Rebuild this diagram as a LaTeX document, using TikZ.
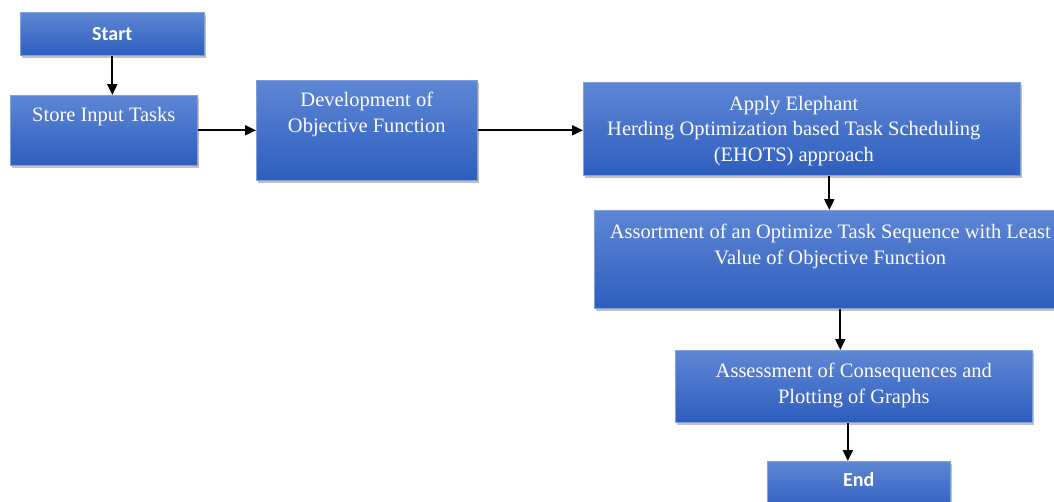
\documentclass[tikz,border=0pt]{standalone}
\usepackage{fontspec}
\setmainfont{Liberation Serif}
\newfontfamily\calfont{Carlito}
\usetikzlibrary{arrows.meta,shadows}

\definecolor{boxtop}{RGB}{94,134,212}
\definecolor{boxbottom}{RGB}{46,94,190}
\definecolor{boxedge}{RGB}{126,160,222}

\begin{document}
\begin{tikzpicture}[
    x=1pt, y=-1pt,
    flowbox/.style={anchor=north west, inner sep=0pt,
        top color=boxtop, bottom color=boxbottom,
        draw=boxedge, line width=0.6pt,
        drop shadow={shadow xshift=1.5pt, shadow yshift=-2.5pt, opacity=0.35, fill=black!70}},
    boxtext/.style={anchor=north, inner sep=0pt, text=white, align=center,
        font=\fontsize{20.5}{25.5}\selectfont},
    termtext/.style={inner sep=0pt, text=white, font=\calfont\bfseries\fontsize{20}{24}\selectfont},
    flowarrow/.style={-{Triangle[length=11pt,width=10pt]}, line width=2pt, black}
]
\useasboundingbox[fill=white] (0,0) rectangle (1054,501);

% boxes
\node[flowbox, minimum width=184pt, minimum height=43pt] (start) at (20,12) {};
\node[flowbox, minimum width=187pt, minimum height=70pt] (store) at (10,95) {};
\node[flowbox, minimum width=221pt, minimum height=100pt] (devel) at (256,80) {};
\node[flowbox, minimum width=437pt, minimum height=93pt] (apply) at (583,82) {};
\node[flowbox, minimum width=470pt, minimum height=98pt] (assort) at (594,210) {};
\node[flowbox, minimum width=357pt, minimum height=72pt] (assess) at (675,350) {};
\node[flowbox, minimum width=183pt, minimum height=50pt] (stop) at (767,461) {};

% texts
\node[termtext] (starttext) at (start.center) {Start};
\node[boxtext] (storetext) at ([yshift=-12pt]store.north) {Store Input Tasks};
\node[boxtext] (develtext) at ([yshift=-12pt]devel.north) {Development of\\Objective Function};
\node[boxtext] (applytext) at ([xshift=-8pt,yshift=-14pt]apply.north) {Apply Elephant\\Herding Optimization based Task Scheduling\\(EHOTS) approach};
\node[boxtext] (assorttext) at ([xshift=1pt,yshift=-14pt]assort.north) {Assortment of an Optimize Task Sequence with Least\\Value of Objective Function};
\node[boxtext] (assesstext) at ([yshift=-13pt]assess.north) {Assessment of Consequences and\\Plotting of Graphs};
\node[termtext] (stoptext) at ([yshift=-19pt]stop.north) {End};

% connectors
\draw[flowarrow] (start.south) -- (start.south |- store.north);
\draw[flowarrow] (store.east) -- (store.east -| devel.west);
\draw[flowarrow] (devel.east) -- (devel.east -| apply.west);
\draw[flowarrow] (apply.south -| assort.north) -- (assort.north);
\draw[flowarrow] ([xshift=11pt]assort.south) -- ([xshift=11pt]assort.south |- assess.north);
\draw[flowarrow] ([xshift=-6pt]assess.south) -- ([xshift=-6pt]assess.south |- stop.north);

\end{tikzpicture}
\end{document}
